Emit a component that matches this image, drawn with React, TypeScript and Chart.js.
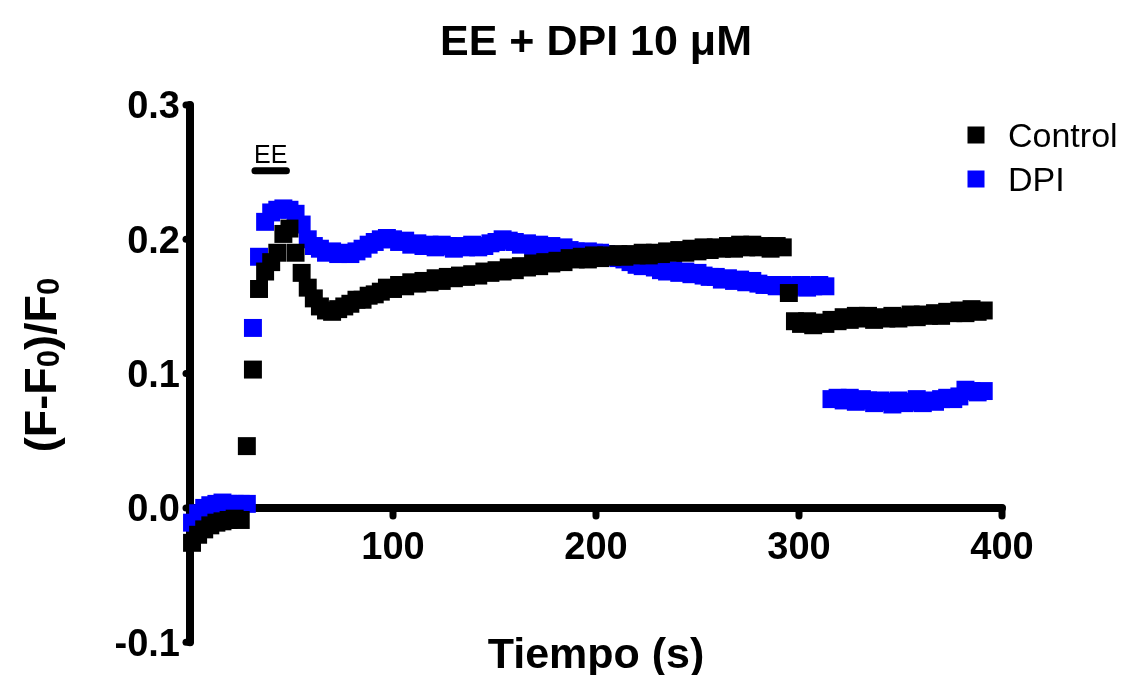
import React, { useEffect, useRef } from 'react';
import { Chart, registerables } from 'chart.js';

Chart.register(...registerables);

// ---- data ----
const timeSeconds = [
  1, 4, 7, 10, 13, 16, 19, 22, 25, 28,
  31, 34, 37, 40, 43, 46, 49, 52, 55, 58,
  61, 64, 67, 70, 73, 76, 79, 82, 85, 88,
  91, 94, 97, 100, 103, 106, 109, 112, 115, 118,
  121, 124, 127, 130, 133, 136, 139, 142, 145, 148,
  151, 154, 157, 160, 163, 166, 169, 172, 175, 178,
  181, 184, 187, 190, 193, 196, 199, 202, 205, 208,
  211, 214, 217, 220, 223, 226, 229, 232, 235, 238,
  241, 244, 247, 250, 253, 256, 259, 262, 265, 268,
  271, 274, 277, 280, 283, 286, 289, 292, 295, 298,
  301, 304, 307, 310, 313, 316, 319, 322, 325, 328,
  331, 334, 337, 340, 343, 346, 349, 352, 355, 358,
  361, 364, 367, 370, 373, 376, 379, 382, 385, 388,
  391,
];

const controlValues = [
  -0.026, -0.02, -0.016, -0.013, -0.011, -0.01, -0.009, -0.008, -0.009, 0.046,
  0.103, 0.163, 0.176, 0.183, 0.19, 0.204, 0.208, 0.19, 0.175, 0.164,
  0.156, 0.15, 0.147, 0.146, 0.148, 0.15, 0.152, 0.155, 0.155, 0.158,
  0.159, 0.161, 0.164, 0.163, 0.166, 0.165, 0.168, 0.167, 0.169, 0.168,
  0.171, 0.169, 0.172, 0.171, 0.173, 0.172, 0.174, 0.173, 0.176, 0.175,
  0.177, 0.176, 0.179, 0.177, 0.18, 0.179, 0.182, 0.18, 0.183, 0.182,
  0.184, 0.183, 0.186, 0.185, 0.187, 0.185, 0.188, 0.186, 0.188, 0.187,
  0.189, 0.187, 0.189, 0.188, 0.19, 0.188, 0.19, 0.189, 0.191, 0.19,
  0.192, 0.19, 0.193, 0.191, 0.194, 0.192, 0.194, 0.193, 0.195, 0.193,
  0.196, 0.194, 0.196, 0.194, 0.195, 0.193, 0.195, 0.194, 0.16, 0.139,
  0.137, 0.139, 0.136, 0.138, 0.137, 0.14, 0.139, 0.142, 0.14, 0.143,
  0.141, 0.143, 0.14, 0.142, 0.141, 0.143, 0.141, 0.142, 0.144, 0.142,
  0.144, 0.143, 0.145, 0.143, 0.146, 0.145, 0.147, 0.145, 0.148, 0.146,
  0.147,
];

const dpiValues = [
  -0.011, -0.004, 0.0, 0.002, 0.003, 0.004, 0.003, 0.003, 0.003, 0.003,
  0.134, 0.187, 0.213, 0.22, 0.222, 0.223, 0.222, 0.219, 0.211, 0.2,
  0.195, 0.193, 0.19, 0.191, 0.189, 0.19, 0.189, 0.191, 0.193, 0.196,
  0.198, 0.2, 0.201, 0.2, 0.198, 0.199, 0.196, 0.197, 0.195, 0.196,
  0.194, 0.196, 0.195, 0.193, 0.195, 0.194, 0.196, 0.194, 0.195, 0.197,
  0.198, 0.2, 0.199, 0.198, 0.196, 0.197, 0.195, 0.196, 0.194, 0.195,
  0.193, 0.194, 0.192, 0.191, 0.19, 0.191, 0.19, 0.19, 0.189, 0.188,
  0.186, 0.185, 0.183, 0.181, 0.18, 0.181, 0.179, 0.177, 0.176, 0.177,
  0.175, 0.176, 0.174, 0.175, 0.173, 0.172, 0.172, 0.17, 0.171, 0.169,
  0.17, 0.168, 0.169, 0.167, 0.166, 0.166, 0.165, 0.166, 0.164, 0.165,
  0.166, 0.164, 0.165, 0.166, 0.165, 0.081, 0.082, 0.08, 0.082, 0.079,
  0.081, 0.08, 0.078, 0.08, 0.079, 0.077, 0.08, 0.078, 0.079, 0.081,
  0.078, 0.08, 0.079, 0.081, 0.082, 0.081, 0.083, 0.088, 0.087, 0.086,
  0.087,
];

const seriesNames = ['Control', 'DPI'];
const seriesColors = ['#000000', '#0000ff'];
const xTickValues = [100, 200, 300, 400];
const yTickValues = [-0.1, 0.0, 0.1, 0.2, 0.3];
const chartTitle = 'EE + DPI 10 \u03bcM';
const xAxisTitle = 'Tiempo (s)';
const yAxisTitleParts = [
  { text: '(F-F', sub: false },
  { text: '0', sub: true },
  { text: ')/F', sub: false },
  { text: '0', sub: true },
];
const stimulusLabel = 'EE';
const stimulusStart = 32;
const stimulusEnd = 47.5;
const stimulusLevel = 0.251;

const FONT = '"Liberation Sans", Arial, Helvetica, sans-serif';

const decorPlugin = {
  id: 'decor',
  beforeDatasetsDraw(chart: any) {
    const { ctx, scales } = chart;
    const x = scales.x;
    const y = scales.y;
    const x0 = x.getPixelForValue(0);
    const y0 = y.getPixelForValue(0);
    ctx.save();
    ctx.strokeStyle = '#000';
    ctx.lineCap = 'round';
    ctx.lineWidth = 8;
    ctx.beginPath();
    ctx.moveTo(x0, y.getPixelForValue(yTickValues[0]));
    ctx.lineTo(x0, y.getPixelForValue(yTickValues[yTickValues.length - 1]));
    ctx.stroke();
    ctx.beginPath();
    ctx.moveTo(x0, y0);
    ctx.lineTo(x.getPixelForValue(xTickValues[xTickValues.length - 1]), y0);
    ctx.stroke();
    ctx.lineWidth = 7;
    yTickValues.forEach((v) => {
      const py = y.getPixelForValue(v);
      ctx.beginPath();
      ctx.moveTo(x0, py);
      ctx.lineTo(x0 - 4, py);
      ctx.stroke();
    });
    xTickValues.forEach((v) => {
      const px = x.getPixelForValue(v);
      ctx.beginPath();
      ctx.moveTo(px, y0);
      ctx.lineTo(px, y0 + 8);
      ctx.stroke();
    });
    ctx.restore();
  },
  afterDraw(chart: any) {
    const { ctx, scales, chartArea } = chart;
    const x = scales.x;
    const y = scales.y;
    ctx.save();
    ctx.fillStyle = '#000';
    ctx.textBaseline = 'alphabetic';

    // title
    ctx.font = `bold 43px ${FONT}`;
    ctx.textAlign = 'center';
    ctx.fillText(chartTitle, 596, 55);

    // x axis title
    ctx.font = `bold 43px ${FONT}`;
    ctx.fillText(xAxisTitle, (chartArea.left + chartArea.right) / 2, 668);

    // y axis title with subscripts
    ctx.save();
    ctx.translate(56, 365);
    ctx.rotate(-Math.PI / 2);
    ctx.textAlign = 'left';
    const mainFont = `bold 45px ${FONT}`;
    const subFont = `bold 31px ${FONT}`;
    let total = 0;
    yAxisTitleParts.forEach((p) => {
      ctx.font = p.sub ? subFont : mainFont;
      total += ctx.measureText(p.text).width;
    });
    let cx = -total / 2;
    yAxisTitleParts.forEach((p) => {
      ctx.font = p.sub ? subFont : mainFont;
      ctx.fillText(p.text, cx, p.sub ? 3 : 0);
      cx += ctx.measureText(p.text).width;
    });
    ctx.restore();

    // stimulus bar
    const sx1 = x.getPixelForValue(stimulusStart);
    const sx2 = x.getPixelForValue(stimulusEnd);
    const sy = y.getPixelForValue(stimulusLevel);
    ctx.strokeStyle = '#000';
    ctx.lineWidth = 7;
    ctx.lineCap = 'round';
    ctx.beginPath();
    ctx.moveTo(sx1, sy);
    ctx.lineTo(sx2, sy);
    ctx.stroke();
    ctx.font = `25px ${FONT}`;
    ctx.textAlign = 'center';
    ctx.fillText(stimulusLabel, (sx1 + sx2) / 2, sy - 8);

    // legend
    ctx.textAlign = 'left';
    ctx.font = `34px ${FONT}`;
    seriesNames.forEach((name, i) => {
      const cyy = 135 + i * 44;
      ctx.fillStyle = seriesColors[i];
      ctx.fillRect(chartArea.right - 34.5, cyy - 8.5, 17, 17);
      ctx.fillStyle = '#000';
      ctx.fillText(name, chartArea.right + 6, cyy + 12);
    });
    ctx.restore();
  },
};

export default function App() {
  const canvasRef = useRef<HTMLCanvasElement | null>(null);

  useEffect(() => {
    if (!canvasRef.current) return;
    const datasets = [controlValues, dpiValues].map((vals, i) => ({
      label: seriesNames[i],
      data: timeSeconds.map((t, j) => ({ x: t, y: vals[j] })),
      backgroundColor: seriesColors[i],
      borderColor: seriesColors[i],
      pointStyle: 'rect',
      pointRadius: 12.7,
      pointBorderWidth: 0,
      pointHoverRadius: 12.7,
      showLine: false,
      clip: false,
    }));
    const tickFont = { family: FONT, size: 38, weight: 'bold' as const };
    const chart = new Chart(canvasRef.current, {
      type: 'scatter',
      data: { datasets },
      options: {
        animation: false,
        responsive: true,
        maintainAspectRatio: false,
        layout: { padding: { left: 0, top: 105, right: 120, bottom: 30 } },
        plugins: {
          legend: { display: false },
          title: { display: false },
          tooltip: { enabled: false },
        },
        scales: {
          x: {
            type: 'linear',
            min: 0,
            max: 400,
            position: { y: 0 } as any,
            grid: { display: false, drawTicks: false },
            border: { display: false },
            afterBuildTicks: (s: any) => {
              s.ticks = xTickValues.map((v) => ({ value: v }));
            },
            ticks: {
              color: '#000',
              font: tickFont,
              padding: 18,
              maxRotation: 0,
              autoSkip: false,
              callback: (v: any) => String(v),
            },
            afterFit: (s: any) => {
              s.height = 0;
            },
          },
          y: {
            type: 'linear',
            min: -0.1,
            max: 0.3,
            position: 'left',
            grid: { display: false, drawTicks: false },
            border: { display: false },
            afterBuildTicks: (s: any) => {
              s.ticks = yTickValues.map((v) => ({ value: v }));
            },
            ticks: {
              color: '#000',
              font: tickFont,
              padding: 10,
              labelOffset: 3,
              autoSkip: false,
              callback: (v: any) => Number(v).toFixed(1),
            },
            afterFit: (s: any) => {
              s.width = 190;
            },
          },
        },
      },
      plugins: [decorPlugin],
    });
    return () => chart.destroy();
  }, []);

  return (
    <div style={{ position: 'fixed', left: 0, top: 0, width: '1122px', height: '675px', background: '#fff' }}>
      <canvas ref={canvasRef} />
    </div>
  );
}
